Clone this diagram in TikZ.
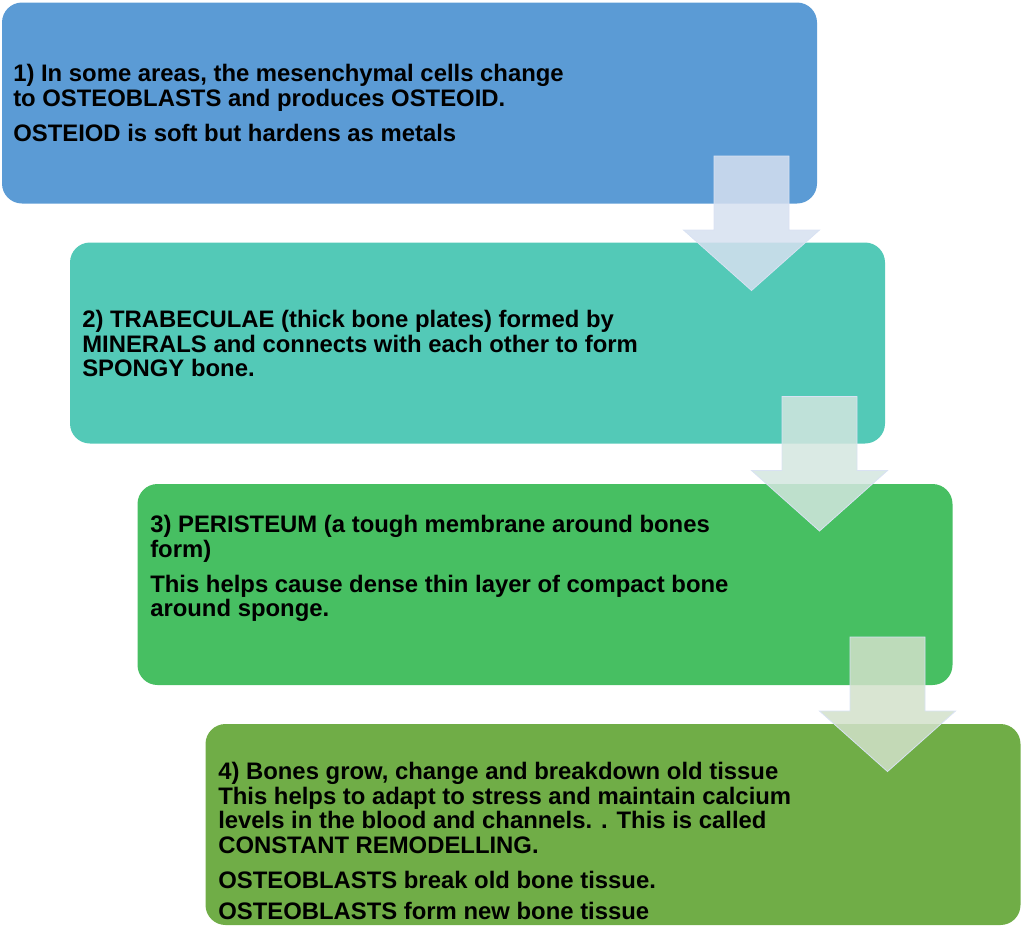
\documentclass[tikz,border=0pt]{standalone}
\usepackage{fontspec}
\setmainfont{Liberation Sans}
\usepackage{tikz}
\usetikzlibrary{positioning}

\definecolor{stepblue}{HTML}{5B9BD5}
\definecolor{stepteal}{HTML}{53C9B7}
\definecolor{stepgreen}{HTML}{47BF62}
\definecolor{stepolive}{HTML}{70AD47}
\definecolor{arrowA}{HTML}{D6E0F0}
\definecolor{arrowB}{HTML}{D3E6DF}
\definecolor{arrowC}{HTML}{D2E1CA}
\definecolor{arrowline}{HTML}{D9E2F3}

\tikzset{
	stepbox/.style={rectangle, rounded corners=15pt, draw=none, inner sep=0pt,
		minimum width=611.25pt, minimum height=150.75pt},
	steptext/.style={anchor=north west, inner sep=0pt, align=left, text=black,
		font=\fontsize{17.9}{18.4}\selectfont\bfseries},
	downarrow/.style={draw=arrowline, line width=0.6pt, fill opacity=0.85}
}

\begin{document}
\begin{tikzpicture}[x=0.75pt,y=-0.75pt]
	\useasboundingbox (0,0) rectangle (1023,940);

	\node[stepbox, fill=stepblue] (box1) at (409.5,103) {};
	\node[stepbox, fill=stepteal] (box2) at (477.5,343) {};
	\node[stepbox, fill=stepgreen] (box3) at (545,584.5) {};
	\node[stepbox, fill=stepolive] (box4) at (613,824.5) {};

	\node[steptext] (text1) at (13,64) {1) In some areas, the mesenchymal cells change\\
		to OSTEOBLASTS and produces OSTEOID.\\[8pt]
		OSTEIOD is soft but hardens as metals};
	\node[steptext] (text2) at (82,310) {2) TRABECULAE (thick bone plates) formed by\\
		MINERALS and connects with each other to form\\
		SPONGY bone.};
	\node[steptext] (text3) at (150,515) {3) PERISTEUM (a tough membrane around bones\\
		form)\\[8pt]
		This helps cause dense thin layer of compact bone\\
		around sponge.};
	\node[steptext] (text4) at (218,762) {4) Bones grow, change and breakdown old tissue\\
		This helps to adapt to stress and maintain calcium\\
		levels in the blood and channels. . This is called\\
		CONSTANT REMODELLING.\\[8pt]
		OSTEOBLASTS break old bone tissue.\\[5pt]
		OSTEOBLASTS form new bone tissue};

	% arrows between the steps
	\draw[downarrow, fill=arrowA] (714,156) -- (789,156) -- (789,230) -- (819.5,230)
		-- (751.5,290.5) -- (683.5,230) -- (714,230) -- cycle;
	\draw[downarrow, fill=arrowB, shift={(68,240.5)}] (714,156) -- (789,156) -- (789,230) -- (819.5,230)
		-- (751.5,290.5) -- (683.5,230) -- (714,230) -- cycle;
	\draw[downarrow, fill=arrowC, shift={(136,481)}] (714,156) -- (789,156) -- (789,230) -- (819.5,230)
		-- (751.5,290.5) -- (683.5,230) -- (714,230) -- cycle;
\end{tikzpicture}
\end{document}
